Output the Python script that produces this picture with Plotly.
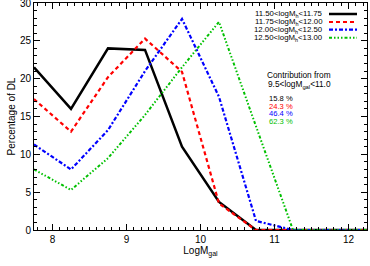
import plotly.graph_objects as go

x_bins = [7.75, 8.25, 8.75, 9.25, 9.75, 10.25, 10.75, 11.25, 11.75, 12.25]
black_vals = [21.5, 16.0, 24.0, 23.8, 11.0, 3.7, 0.0, 0.0, 0.0, 0.0]
red_vals = [17.3, 13.0, 20.2, 25.3, 20.9, 3.5, 0.0, 0.0, 0.0, 0.0]
blue_vals = [11.3, 8.0, 13.2, 21.0, 27.9, 17.6, 1.2, 0.0, 0.0, 0.0]
green_vals = [8.0, 5.3, 9.5, 15.2, 21.5, 27.5, 13.7, 0.0, 0.0, 0.0]

legend_labels = ["11.50<logM<sub>h</sub><11.75", "11.75<logM<sub>h</sub><12.00",
                 "12.00<logM<sub>h</sub><12.50", "12.50<logM<sub>h</sub><13.00"]
contrib = ["15.8 %", "24.3 %", "46.4 %", "62.3 %"]
colors = ["black", "#ff0000", "#0000ff", "#00c000"]
dashes = ["solid", "4px,3px", "4px,2px,2px,2px", "3px,2px,1.5px,2px,1.5px,2px,1.5px,2px"]
widths = [2.5, 2.2, 2.2, 2.0]
series = [black_vals, red_vals, blue_vals, green_vals]

FONT = "Liberation Sans, Arial, sans-serif"
fig = go.Figure()
for vals, c, d, w in zip(series, colors, dashes, widths):
    fig.add_trace(go.Scatter(x=x_bins, y=vals, mode="lines",
                             line=dict(color=c, width=w, dash=d),
                             showlegend=False))

row_y = [14, 22, 29.7, 37.7]
H, W = 266, 370
l, r, t, b = 34, 3, 3, 36
pw, ph = W - l - r, H - t - b
def px(xp):
    return (xp - l) / pw
def py(yp):
    return 1 - (yp - t) / ph
for lab, c, d, w, yy in zip(legend_labels, colors, dashes, widths, row_y):
    fig.add_annotation(x=px(324), y=py(yy), xref="paper", yref="paper", text=lab,
                       showarrow=False, xanchor="right", yanchor="middle", borderpad=0,
                       font=dict(size=7.8, color="black", family=FONT))
    fig.add_shape(type="line", xref="paper", yref="paper", x0=px(329), x1=px(357),
                  y0=py(yy), y1=py(yy), line=dict(color=c, width=w, dash=d))

fig.add_annotation(x=px(299), y=py(75), xref="paper", yref="paper", text="Contribution from",
                   showarrow=False, xanchor="center", yanchor="middle", borderpad=0,
                   font=dict(size=8.3, color="black", family=FONT))
fig.add_annotation(x=px(299), y=py(84), xref="paper", yref="paper", text="9.5<logM<sub>gal</sub><11.0",
                   showarrow=False, xanchor="center", yanchor="middle", borderpad=0,
                   font=dict(size=8.3, color="black", family=FONT))
for txt, c, yy in zip(contrib, colors, [98.5, 106, 113.5, 121]):
    fig.add_annotation(x=px(268), y=py(yy), xref="paper", yref="paper", text=txt,
                       showarrow=False, xanchor="left", yanchor="middle", borderpad=0,
                       font=dict(size=7.6, color=c, family=FONT))

fig.update_layout(
    width=W, height=H,
    margin=dict(l=l, r=r, t=t, b=b, autoexpand=False),
    paper_bgcolor="white", plot_bgcolor="white",
    font=dict(family=FONT, size=10, color="black"),
    xaxis=dict(range=[7.75, 12.25], tickvals=[8, 9, 10, 11, 12], ticks="inside", ticklen=6,
               tickwidth=1, tickcolor="black", showline=True, linecolor="black", linewidth=1,
               mirror="allticks", showgrid=False, zeroline=False, automargin=False,
               minor=dict(dtick=0.1, ticks="inside", ticklen=3, tickcolor="black", showgrid=False),
               title=dict(text="LogM<sub>gal</sub>", standoff=0, font=dict(size=10)),
               tickfont=dict(size=10)),
    yaxis=dict(range=[0, 30], tickvals=[0, 5, 10, 15, 20, 25, 30], ticks="inside", ticklen=6,
               tickwidth=1, tickcolor="black", showline=True, linecolor="black", linewidth=1,
               mirror="allticks", showgrid=False, zeroline=False, automargin=False,
               ticklabeloverflow="allow",
               minor=dict(dtick=1, ticks="inside", ticklen=3, tickcolor="black", showgrid=False),
               title=dict(text="Percentage of DL", standoff=2, font=dict(size=10)),
               tickfont=dict(size=10)),
)
fig.write_html("out.html", config={"displayModeBar": False},
               post_script="document.body.style.margin='0';document.body.style.padding='0';")
